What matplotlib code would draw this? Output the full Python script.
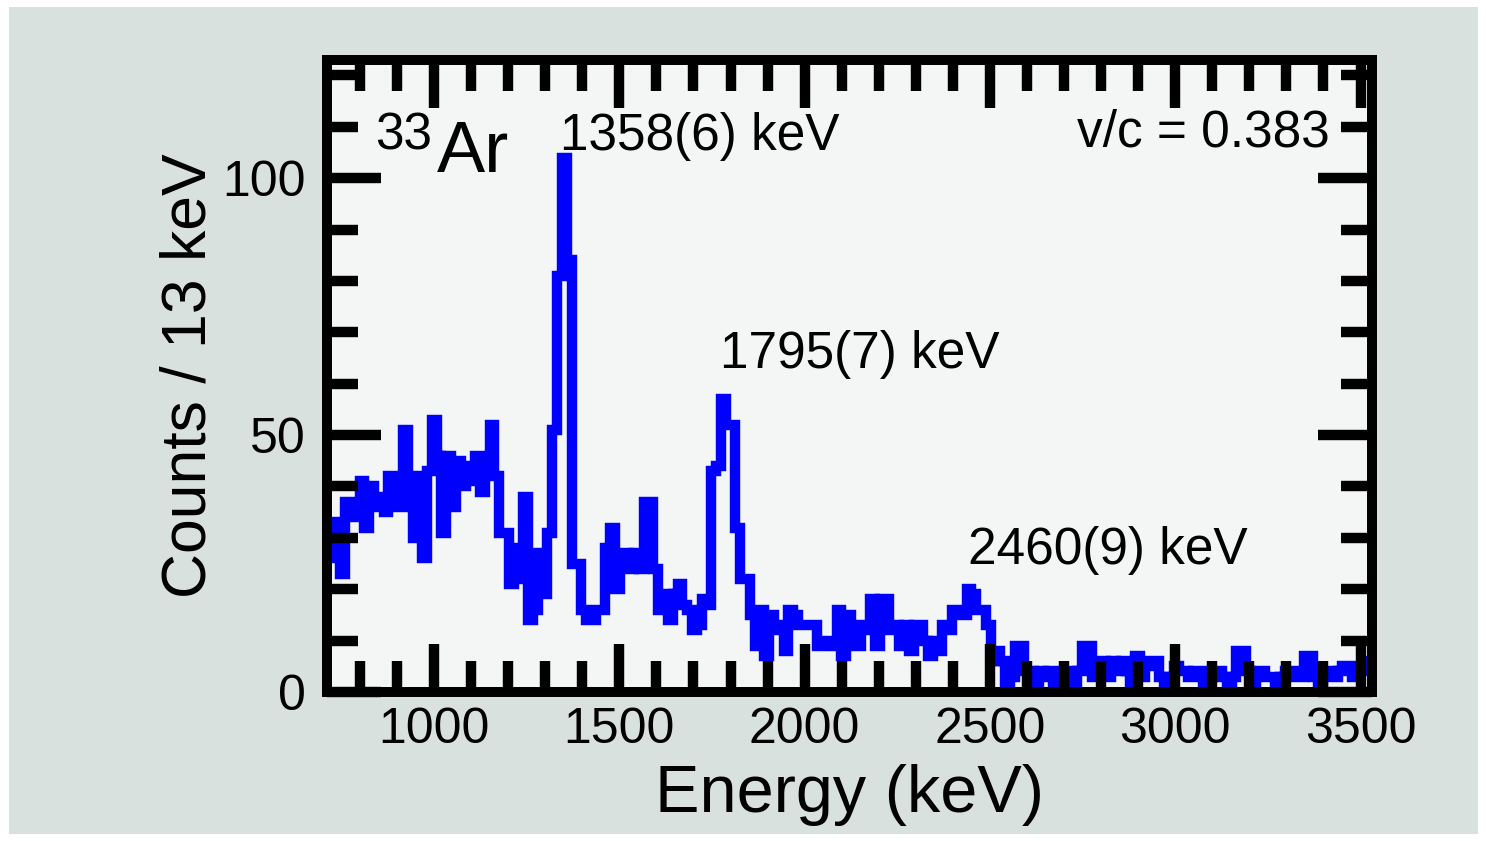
import numpy as np
import matplotlib
matplotlib.use("Agg")
import matplotlib.pyplot as plt
from matplotlib.patches import Rectangle

plt.rcParams['font.family'] = ['Liberation Sans', 'DejaVu Sans']

# spectrum: counts per 13 keV bin, first bin starts at 721 keV
bin_start = 721
bin_width = 13
counts = [
    33, 26, 23, 37, 34, 34, 41, 32, 40, 36,
    38, 35, 42, 37, 36, 51, 40, 30, 42, 26,
    43, 53, 46, 31, 46, 36, 45, 40, 44, 41,
    46, 39, 45, 52, 42, 31, 31, 21, 28, 22,
    38, 14, 16, 27, 19, 31, 51, 81, 104, 84,
    25, 25, 16, 14, 14, 16, 16, 28, 32, 20,
    27, 27, 24, 27, 24, 37, 37, 24, 16, 19,
    14, 19, 21, 17, 16, 12, 13, 18, 17, 43,
    44, 57, 52, 52, 32, 22, 22, 15, 9, 16,
    7, 15, 12, 13, 8, 16, 15, 13, 13, 13,
    13, 9, 10, 10, 9, 16, 7, 15, 12, 9,
    13, 12, 18, 9, 18, 18, 12, 13, 9, 13,
    8, 13, 13, 10, 7, 10, 8, 13, 12, 16,
    15, 15, 20, 19, 16, 16, 13, 6, 8, 6,
    2, 3, 9, 9, 4, 4, 2, 4, 3, 4,
    2, 3, 4, 4, 2, 4, 9, 9, 3, 5,
    6, 3, 6, 4, 6, 4, 2, 7, 3, 5,
    6, 6, 3, 2, 3, 5, 4, 4, 3, 4,
    4, 2, 3, 4, 4, 3, 2, 3, 8, 8,
    4, 2, 4, 4, 3, 3, 2, 3, 4, 4,
    3, 3, 7, 7, 3, 2, 4, 4, 3, 4,
    5, 5, 3, 4, 6, 5,
]
edges = bin_start + bin_width * np.arange(len(counts) + 1)

peak_labels = ["1358(6) keV", "1795(7) keV", "2460(9) keV"]
peak_label_pos = [(1340, 105.5), (1772, 63), (2442, 25)]

fig = plt.figure(figsize=(14.86, 8.41), dpi=100)
fig.patch.set_facecolor('white')
# grey panel behind the plot
fig.patches.append(Rectangle((9/1486, 7/841), 1469/1486, 827/841,
                             transform=fig.transFigure, facecolor='#d9e1de',
                             edgecolor='none', zorder=-10))

ax = fig.add_axes([0.2200, 0.1772, 0.7033, 0.7515])
ax.set_facecolor('#f4f6f5')

ax.stairs(counts, edges, baseline=None, color='#0000ff', linewidth=7.5,
          joinstyle='miter')

ax.set_xlim(711, 3531)
ax.set_ylim(0, 123)
ax.set_xticks(np.arange(1000, 3501, 500))
ax.set_xticks(np.arange(800, 3501, 100), minor=True)
ax.set_yticks([0, 50, 100])
ax.set_yticks(np.arange(0, 121, 10), minor=True)

for s in ax.spines.values():
    s.set_linewidth(7.2)
ax.set_axisbelow(False)
ax.tick_params(which='both', direction='in', top=True, right=True,
               width=7.5, labelsize=36)
ax.tick_params(axis='x', which='major', length=34.5, pad=11)
ax.tick_params(axis='y', which='major', length=39, pad=15)
ax.tick_params(which='minor', length=22.5)

ax.set_xlabel("Energy (keV)", fontsize=48, labelpad=8)
ax.set_ylabel("Counts / 13 keV", fontsize=45, labelpad=3)

for txt, (xe, yc) in zip(peak_labels, peak_label_pos):
    ax.text(xe, yc, txt, fontsize=37, ha='left', va='baseline')

ax.text(0.1005, 0.8576, "33", transform=ax.transAxes, fontsize=37,
        ha='right', va='baseline')
ax.text(0.1053, 0.8228, "Ar", transform=ax.transAxes, fontsize=52,
        ha='left', va='baseline')
ax.text(0.9598, 0.8623, "v/c = 0.383", transform=ax.transAxes, fontsize=37,
        ha='right', va='baseline')

fig.savefig("out.png", dpi=100)
